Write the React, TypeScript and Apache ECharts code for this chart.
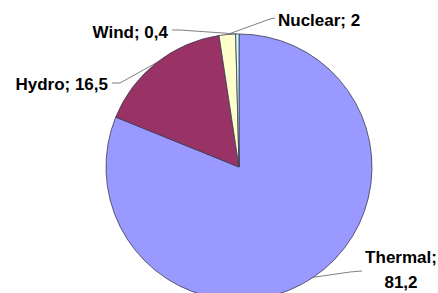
import React, { useEffect, useRef } from "react";
import * as echarts from "echarts";

const categories = ["Thermal", "Hydro", "Nuclear", "Wind"];
const values = [81.2, 16.5, 2, 0.4];
const colors = ["#9999FF", "#993366", "#FFFFCC", "#CCFFFF"];

const labelPlacement: Record<number, any> = {
  0: { x: 401, y: 270, align: "center", bend: [350, 272], end: [362, 271] },
  1: { x: 108, y: 84, align: "right", bend: [120, 83], end: [112, 83] },
  2: { x: 278, y: 20, align: "left", bend: [270, 19], end: [275, 18] },
  3: { x: 168, y: 32, align: "right", bend: [180, 30], end: [172, 30] },
};

export default function App() {
  const ref = useRef<HTMLDivElement>(null);
  useEffect(() => {
    if (!ref.current) return;
    const chart = echarts.init(ref.current, null, { renderer: "svg" });
    const data = categories.map((name, i) => ({
      name,
      value: values[i],
      itemStyle: { color: colors[i] },
    }));
    chart.setOption({
      animation: false,
      backgroundColor: "#ffffff",
      series: [
        {
          type: "pie",
          center: [239, 167],
          radius: 133,
          startAngle: 90,
          clockwise: true,
          data,
          itemStyle: { borderColor: "#3a3a50", borderWidth: 0.8 },
          label: {
            show: true,
            position: "outside",
            overflow: "none",
            fontFamily: 'Arial, "Liberation Sans", sans-serif',
            fontWeight: "bold",
            fontSize: 17,
            lineHeight: 25,
            color: "#000000",
            formatter: (p: any) => {
              const v = String(p.value).replace(".", ",");
              return p.dataIndex === 0 ? `${p.name};\n${v}` : `${p.name}; ${v}`;
            },
          },
          labelLine: {
            show: true,
            lineStyle: { color: "#808080", width: 1 },
          },
          labelLayout: (params: any) => {
            const L = labelPlacement[params.dataIndex];
            const p0 = params.labelLinePoints ? params.labelLinePoints[0] : null;
            const out: any = {
              x: L.x,
              y: L.y,
              align: L.align,
              verticalAlign: "middle",
            };
            if (p0) out.labelLinePoints = [p0, L.bend, L.end];
            return out;
          },
        },
      ],
    });
    return () => chart.dispose();
  }, []);
  return (
    <div
      ref={ref}
      style={{ position: "fixed", left: 0, top: 0, width: 438, height: 293 }}
    />
  );
}
